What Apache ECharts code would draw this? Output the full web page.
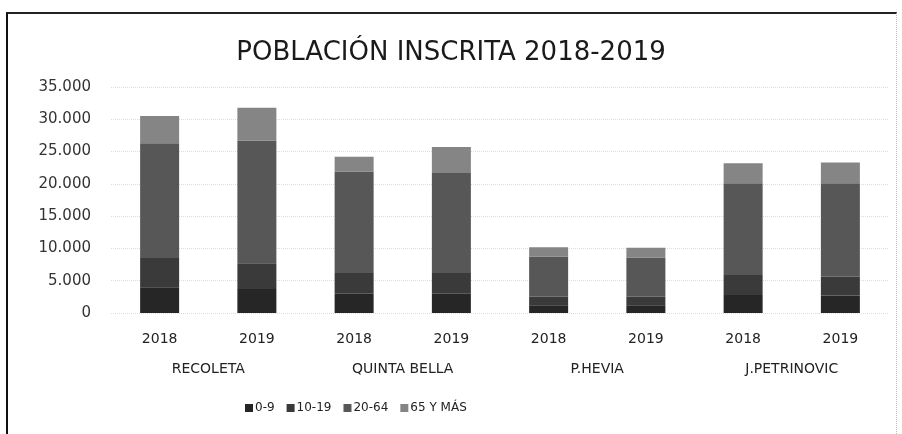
<!DOCTYPE html>
<html>
<head>
<meta charset="utf-8">
<script src="https://cdn.jsdelivr.net/npm/echarts@6/dist/echarts.min.js"></script>
<style>
  html, body { margin: 0; padding: 0; background: #fff; }
  #frame {
    position: absolute; left: 6px; top: 12px; width: 891px; height: 430px;
    border-left: 2px solid #111; border-top: 2px solid #222; border-right: 1px dotted #bbb;
    box-sizing: border-box;
  }
  #chart { position: absolute; left: 0; top: 0; width: 902px; height: 434px; }
</style>
</head>
<body>
<div id="frame"></div>
<div id="chart"></div>
<script>
// ejes
const years = ["2018", "2019", "2018", "2019", "2018", "2019", "2018", "2019"];
const centros = ["RECOLETA", "QUINTA BELLA", "P.HEVIA", "J.PETRINOVIC"];

// series por tramo de edad
const g0_9   = [4000, 3700, 3000, 3000, 1200, 1200, 2800, 2700];
const g10_19 = [4500, 4000, 3200, 3200, 1300, 1300, 3100, 2900];
const g20_64 = [17800, 19000, 15700, 15500, 6200, 6100, 14200, 14500];
const g65    = [4200, 5100, 2300, 4000, 1500, 1500, 3100, 3200];

const seriesNames = ["0-9", "10-19", "20-64", "65 Y MÁS"];
const seriesData = [g0_9, g10_19, g20_64, g65];
const colors = ["#262626", "#3a3a3a", "#575757", "#858585"];

const font = "'DejaVu Sans', sans-serif";

const myChart = echarts.init(document.getElementById("chart"));
const option = {
  animation: false,
  textStyle: { fontFamily: font },
  title: {
    text: "POBLACIÓN INSCRITA 2018-2019",
    left: "center",
    top: 35,
    textStyle: { fontFamily: font, fontSize: 26, fontWeight: "normal", color: "#1a1a1a" }
  },
  legend: {
    data: seriesNames,
    bottom: 15,
    left: 240,
    itemWidth: 8,
    itemHeight: 8,
    itemGap: 12,
    icon: "rect",
    textStyle: { fontFamily: font, fontSize: 12, color: "#222", padding: [0, 0, 0, -3] }
  },
  grid: { left: 111, right: 13, top: 87, bottom: 121 },
  xAxis: [
    {
      type: "category",
      data: years,
      axisLine: { show: false },
      axisTick: { show: false },
      axisLabel: { fontFamily: font, fontSize: 14, color: "#222", margin: 19 }
    },
    {
      type: "category",
      data: centros,
      position: "bottom",
      axisLine: { show: false },
      axisTick: { show: false },
      axisLabel: { fontFamily: font, fontSize: 14, color: "#222", margin: 49 }
    }
  ],
  yAxis: {
    type: "value",
    min: 0,
    max: 35000,
    interval: 5000,
    axisLine: { show: false },
    axisTick: { show: false },
    axisLabel: {
      fontFamily: font,
      fontSize: 15,
      color: "#333",
      margin: 20,
      formatter: v => v === 0 ? "0" : (v / 1000).toFixed(0) + ".000"
    },
    splitLine: { lineStyle: { color: "#dcdcdc", type: "dotted" } }
  },
  series: seriesNames.map((name, i) => ({
    name: name,
    type: "bar",
    stack: "total",
    xAxisIndex: 0,
    barWidth: 39,
    data: seriesData[i],
    itemStyle: { color: colors[i] }
  }))
};
myChart.setOption(option);
</script>
</body>
</html>
